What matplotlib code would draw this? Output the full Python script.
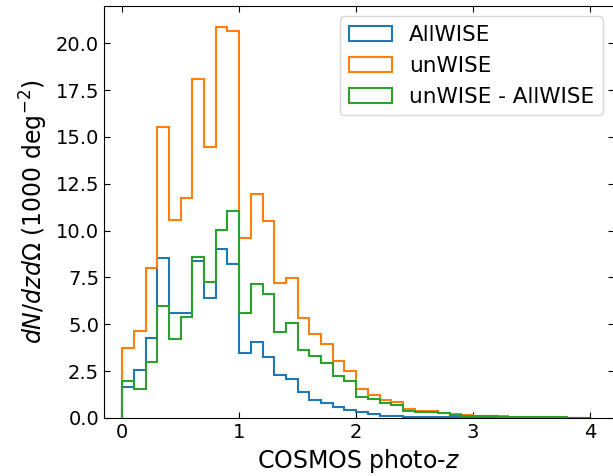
import numpy as np
import matplotlib
matplotlib.use('Agg')
import matplotlib.pyplot as plt

# bin edges: 0.0 to 4.0 in steps of 0.1
edges = np.round(np.arange(0, 4.01, 0.1), 2)
centers = (edges[:-1] + edges[1:]) / 2

# dN/dz dOmega in units of 1000 deg^-2
allwise = [1.63, 2.56, 4.29, 8.52, 5.61, 5.61, 8.38, 6.39, 9.02, 8.23,
           3.48, 4.05, 3.23, 2.27, 2.08, 1.40, 0.96, 0.78, 0.58, 0.43,
           0.33, 0.21, 0.12, 0.08, 0.06, 0.05, 0.04, 0.03, 0.025, 0.02,
           0.015, 0.012, 0.01, 0.008, 0.006, 0.005, 0.004, 0.003, 0.002, 0.002]
unwise = [3.73, 4.65, 8.02, 15.51, 10.58, 11.75, 18.10, 14.48, 20.85, 20.66,
          9.58, 11.93, 10.51, 7.22, 7.49, 5.31, 4.47, 3.92, 3.02, 2.48,
          1.53, 1.25, 0.94, 0.83, 0.46, 0.37, 0.35, 0.27, 0.21, 0.14,
          0.11, 0.10, 0.08, 0.07, 0.06, 0.05, 0.04, 0.03, 0.02, 0.02]
diff = [1.95, 1.54, 2.98, 6.00, 4.19, 5.36, 8.59, 7.28, 10.01, 11.07,
        5.61, 7.13, 6.64, 4.60, 5.04, 3.62, 3.30, 2.93, 2.25, 1.95,
        1.14, 1.02, 0.78, 0.67, 0.39, 0.32, 0.30, 0.25, 0.18, 0.12,
        0.10, 0.09, 0.07, 0.06, 0.05, 0.04, 0.03, 0.025, 0.02, 0.015]

fig, ax = plt.subplots(figsize=(6.13, 4.76), dpi=100)
ax.hist(centers, bins=edges, weights=allwise, histtype='step', lw=1.5, color='C0', label='AllWISE')
ax.hist(centers, bins=edges, weights=unwise, histtype='step', lw=1.5, color='C1', label='unWISE')
ax.hist(centers, bins=edges, weights=diff, histtype='step', lw=1.5, color='C2', label='unWISE - AllWISE')

ax.set_xlim(-0.155, 4.2)
ax.set_ylim(0, 22)
ax.set_yticks(np.arange(0, 20.1, 2.5))
ax.set_xticks([0, 1, 2, 3, 4])
ax.tick_params(direction='in', top=True, right=True, labelsize=14, length=4.5)
ax.set_xlabel('COSMOS photo-$z$', fontsize=17)
ax.set_ylabel(r'$dN/dzd\Omega$ (1000 deg$^{-2}$)', fontsize=17)
ax.legend(loc='upper right', fontsize=15.5)

# the right spine sits just past the image edge, as in the original
plt.subplots_adjust(left=0.1697, right=1.0009, top=0.988, bottom=0.122)
plt.savefig('out.png', dpi=100)
